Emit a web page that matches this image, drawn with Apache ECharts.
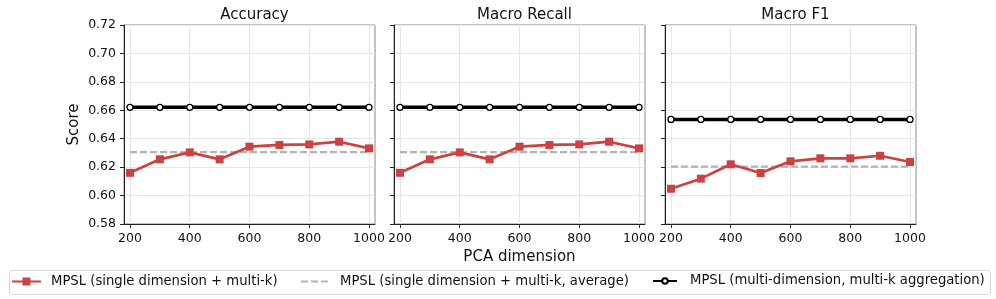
<!DOCTYPE html>
<html>
<head>
<meta charset="utf-8">
<script src="https://cdn.jsdelivr.net/npm/echarts@6/dist/echarts.min.js"></script>
<style>html,body{margin:0;padding:0;background:#fff}#c{width:996px;height:299px}</style>
</head>
<body>
<div id="c"></div>
<script>
const dims = [200, 300, 400, 500, 600, 700, 800, 900, 1000];
const panelTitles = ['Accuracy', 'Macro Recall', 'Macro F1'];
const yTicks = [0.58, 0.60, 0.62, 0.64, 0.66, 0.68, 0.70, 0.72];
const xTicks = [200, 400, 600, 800, 1000];
const seriesNames = ['MPSL (single dimension + multi-k)', 'MPSL (single dimension + multi-k, average)', 'MPSL (multi-dimension, multi-k aggregation)'];

const accSingle = [0.6160, 0.6255, 0.6304, 0.6255, 0.6344, 0.6356, 0.6360, 0.6379, 0.6332];
const accAvg = [0.6305, 0.6305, 0.6305, 0.6305, 0.6305, 0.6305, 0.6305, 0.6305, 0.6305];
const accMulti = [0.6621, 0.6621, 0.6621, 0.6621, 0.6621, 0.6621, 0.6621, 0.6621, 0.6621];

const recSingle = [0.6160, 0.6255, 0.6304, 0.6255, 0.6344, 0.6356, 0.6360, 0.6379, 0.6332];
const recAvg = [0.6305, 0.6305, 0.6305, 0.6305, 0.6305, 0.6305, 0.6305, 0.6305, 0.6305];
const recMulti = [0.6621, 0.6621, 0.6621, 0.6621, 0.6621, 0.6621, 0.6621, 0.6621, 0.6621];

const f1Single = [0.6048, 0.6119, 0.6220, 0.6159, 0.6241, 0.6262, 0.6262, 0.6280, 0.6236];
const f1Avg = [0.6203, 0.6203, 0.6203, 0.6203, 0.6203, 0.6203, 0.6203, 0.6203, 0.6203];
const f1Multi = [0.6536, 0.6536, 0.6536, 0.6536, 0.6536, 0.6536, 0.6536, 0.6536, 0.6536];

const panels = [
  [accSingle, accAvg, accMulti],
  [recSingle, recAvg, recMulti],
  [f1Single, f1Avg, f1Multi]
];

const FONT = 'DejaVu Sans';
const RED = '#cc4141';
const GRAY = '#b3b3b3';
const BLACK = '#000000';
const lefts = [124, 394, 665];
const W = 251, TOP = 25, H = 199;

const zip = (xs, ys) => xs.map((x, i) => [x, ys[i]]);

const grids = [], xAxes = [], yAxes = [], titles = [], series = [];
panels.forEach((p, i) => {
  grids.push({left: lefts[i], top: TOP, width: W, height: H, show: true, borderColor: '#8a8a8a', borderWidth: 1, backgroundColor: 'transparent', containLabel: false});
  titles.push({text: panelTitles[i], left: lefts[i] + W / 2, top: 3, textAlign: 'center',
    textStyle: {fontFamily: FONT, fontSize: 15, fontWeight: 'normal', color: '#111'}});
  xAxes.push({
    gridIndex: i, type: 'value', min: 180, max: 1020, interval: 200,
    axisLine: {show: true, onZero: false, lineStyle: {color: '#222', width: 1}},
    axisTick: {show: true, length: 4, lineStyle: {color: '#222'}, customValues: xTicks},
    axisLabel: {fontFamily: FONT, fontSize: 12.5, color: '#111', margin: 8, customValues: xTicks,
      formatter: v => String(v)},
    splitLine: {show: true, lineStyle: {color: '#e6e6e6', width: 1}},
    name: i === 1 ? 'PCA dimension' : '', nameLocation: 'middle', nameGap: 25,
    nameTextStyle: {fontFamily: FONT, fontSize: 15, color: '#111'}
  });
  yAxes.push({
    gridIndex: i, type: 'value', min: 0.58, max: 0.72, interval: 0.02,
    axisLine: {show: true, lineStyle: {color: '#222', width: 1}},
    axisTick: {show: true, length: 4, lineStyle: {color: '#222'}},
    axisLabel: {show: i === 0, fontFamily: FONT, fontSize: 12.5, color: '#111', margin: 8,
      formatter: v => v.toFixed(2)},
    splitLine: {show: true, lineStyle: {color: '#e6e6e6', width: 1}},
    name: i === 0 ? 'Score' : '', nameLocation: 'middle', nameGap: 42,
    nameTextStyle: {fontFamily: FONT, fontSize: 15, color: '#111'}
  });
  series.push({
    name: seriesNames[1], type: 'line', xAxisIndex: i, yAxisIndex: i, z: 2,
    data: zip(dims, p[1]), symbol: 'none', showSymbol: false,
    lineStyle: {color: GRAY, width: 2.2, type: [7, 3]}, itemStyle: {color: GRAY},
    emphasis: {disabled: true}, animation: false
  });
  series.push({
    name: seriesNames[0], type: 'line', xAxisIndex: i, yAxisIndex: i, z: 3,
    data: zip(dims, p[0]), symbol: 'rect', symbolSize: 8,
    lineStyle: {color: RED, width: 2.7}, itemStyle: {color: RED},
    emphasis: {disabled: true}, animation: false
  });
  series.push({
    name: seriesNames[2], type: 'line', xAxisIndex: i, yAxisIndex: i, z: 4,
    data: zip(dims, p[2]), symbol: 'circle', symbolSize: 6,
    lineStyle: {color: BLACK, width: 3.5},
    itemStyle: {color: '#fff', borderColor: BLACK, borderWidth: 1.3},
    emphasis: {disabled: true}, animation: false
  });
});

const legendLefts = [6, 295, 647];
const legendH = [10, 10, 7];
const legendW = [29, 29, 24];
const legendPad = [5, 5, 8];
const legendShift = [-0.5, -0.5, -2.5];
const legendCenter = 280.5;
const legends = seriesNames.map((n, i) => {
  const lg = {
    data: [n], left: legendLefts[i], top: legendCenter - 5 - legendH[i] / 2 + legendShift[i], orient: 'horizontal',
    itemWidth: legendW[i], itemHeight: legendH[i], selectedMode: false,
    textStyle: {fontFamily: FONT, fontSize: 13.2, color: '#111', padding: [0, 0, 0, legendPad[i]]}
  };
  if (i === 1) lg.itemStyle = {opacity: 0};
  return lg;
});

const chart = echarts.init(document.getElementById('c'), null, {renderer: 'canvas'});
chart.setOption({
  animation: false,
  backgroundColor: '#fff',
  title: titles,
  grid: grids,
  xAxis: xAxes,
  yAxis: yAxes,
  legend: legends,
  graphic: [{type: 'rect', left: 7, top: 268, shape: {width: 981, height: 24, r: 3},
    style: {fill: 'none', stroke: '#d5d5d5', lineWidth: 1}, z: -1}],
  series: series
});
</script>
</body>
</html>
